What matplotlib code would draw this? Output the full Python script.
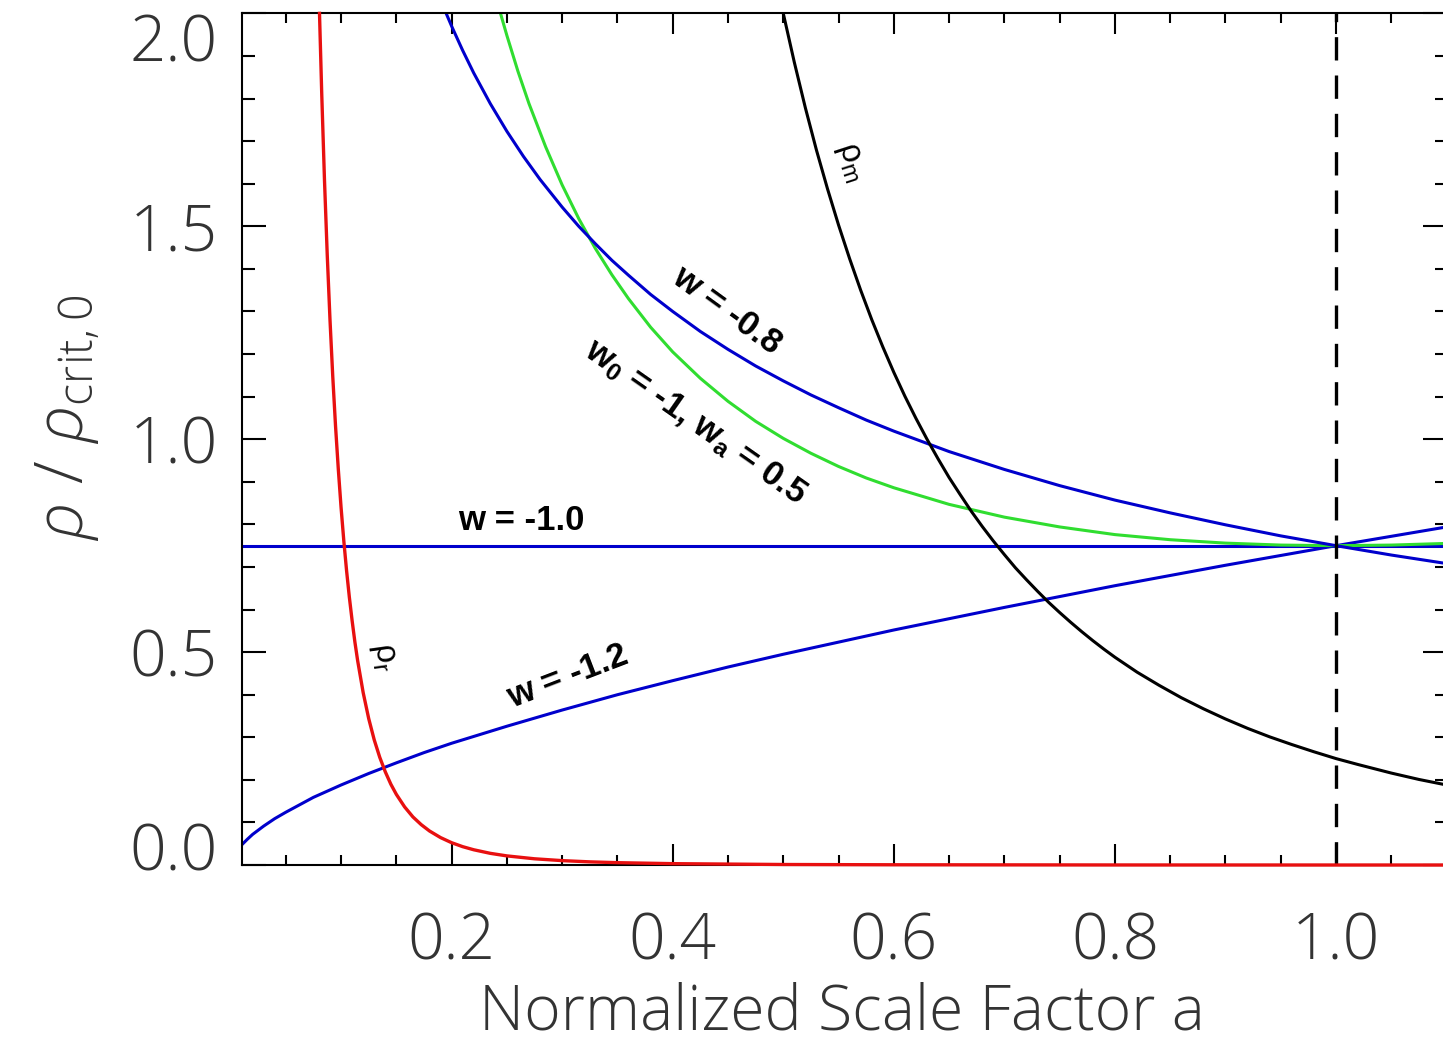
import matplotlib
matplotlib.use("Agg")
import matplotlib.pyplot as plt
from matplotlib.ticker import MultipleLocator
from matplotlib.transforms import ScaledTranslation

plt.rcParams["mathtext.fontset"] = "custom"
plt.rcParams["mathtext.rm"] = "Liberation Sans"
plt.rcParams["mathtext.it"] = "Open Sans:italic:light"
plt.rcParams["mathtext.bf"] = "Liberation Sans:bold"
plt.rcParams["mathtext.sf"] = "Open Sans:light"

# matter density rho_m
a_matter = [0.49, 0.50, 0.51, 0.52, 0.53, 0.54, 0.55, 0.56, 0.57, 0.58, 0.59,
            0.60, 0.61, 0.62, 0.63, 0.64, 0.65, 0.66, 0.67, 0.68, 0.69, 0.70,
            0.71, 0.72, 0.73, 0.74, 0.75, 0.76, 0.77, 0.78, 0.79, 0.80, 0.82,
            0.84, 0.86, 0.88, 0.90, 0.92, 0.94, 0.96, 0.98, 1.00, 1.02, 1.05,
            1.075, 1.10]
rho_matter = [2.125, 2.000, 1.885, 1.778, 1.679, 1.588, 1.503, 1.424, 1.350,
              1.281, 1.217, 1.157, 1.101, 1.049, 1.000, 0.954, 0.910, 0.870,
              0.831, 0.795, 0.761, 0.729, 0.698, 0.670, 0.643, 0.617, 0.593,
              0.570, 0.548, 0.527, 0.507, 0.488, 0.453, 0.422, 0.393, 0.367,
              0.343, 0.321, 0.301, 0.283, 0.266, 0.250, 0.236, 0.216, 0.201,
              0.188]

# radiation density rho_r
a_rad = [0.0805, 0.0825, 0.085, 0.0875, 0.090, 0.0925, 0.095, 0.0975, 0.100,
         0.1025, 0.105, 0.1075, 0.110, 0.1125, 0.115, 0.120, 0.125, 0.130,
         0.135, 0.140, 0.145, 0.150, 0.1575, 0.165, 0.1725, 0.180, 0.190,
         0.200, 0.210, 0.220, 0.235, 0.250, 0.275, 0.300, 0.325, 0.350,
         0.400, 0.500, 0.600, 0.800, 1.000, 1.100]
rho_rad = [2.000, 1.813, 1.609, 1.433, 1.280, 1.147, 1.031, 0.930, 0.840,
           0.761, 0.691, 0.629, 0.574, 0.524, 0.480, 0.405, 0.344, 0.294,
           0.253, 0.219, 0.190, 0.166, 0.1365, 0.113, 0.0949, 0.080, 0.0645,
           0.0525, 0.0432, 0.0359, 0.0275, 0.0215, 0.0147, 0.0104, 0.0075,
           0.0056, 0.0033, 0.0013, 0.00065, 0.0002, 0.00008, 0.00006]

# dark energy, w = -0.8
a_w08 = [0.19, 0.20, 0.21, 0.22, 0.235, 0.25, 0.265, 0.28, 0.30, 0.315, 0.33,
         0.345, 0.36, 0.38, 0.40, 0.425, 0.45, 0.475, 0.50, 0.525, 0.55,
         0.575, 0.60, 0.65, 0.70, 0.75, 0.80, 0.85, 0.90, 0.95, 1.00, 1.05,
         1.10]
rho_w08 = [2.031, 1.970, 1.913, 1.860, 1.788, 1.723, 1.664, 1.610, 1.545,
           1.500, 1.459, 1.420, 1.385, 1.340, 1.300, 1.253, 1.211, 1.172,
           1.137, 1.104, 1.074, 1.045, 1.019, 0.971, 0.929, 0.891, 0.857,
           0.827, 0.799, 0.773, 0.750, 0.728, 0.708]

# dark energy, w = -1.0
a_w10 = [0.01, 1.10]
rho_w10 = [0.75, 0.75]

# dark energy, w = -1.2
a_w12 = [0.01, 0.015, 0.02, 0.03, 0.04, 0.05, 0.075, 0.10, 0.125, 0.15,
         0.175, 0.20, 0.25, 0.30, 0.35, 0.40, 0.45, 0.50, 0.60, 0.70, 0.80,
         0.90, 1.00, 1.10]
rho_w12 = [0.047, 0.060, 0.072, 0.0915, 0.109, 0.124, 0.159, 0.188, 0.215,
           0.240, 0.264, 0.286, 0.326, 0.364, 0.400, 0.433, 0.465, 0.495,
           0.552, 0.605, 0.656, 0.704, 0.750, 0.794]

# dark energy, w0 = -1, wa = 0.5
a_cpl = [0.24, 0.245, 0.25, 0.26, 0.27, 0.285, 0.30, 0.315, 0.33, 0.345,
         0.36, 0.38, 0.40, 0.425, 0.45, 0.475, 0.50, 0.525, 0.55, 0.575,
         0.60, 0.65, 0.70, 0.75, 0.80, 0.85, 0.90, 0.95, 1.00, 1.05, 1.10]
rho_cpl = [2.040, 1.993, 1.948, 1.864, 1.788, 1.687, 1.597, 1.518, 1.448,
           1.386, 1.330, 1.263, 1.205, 1.143, 1.089, 1.042, 1.002, 0.967,
           0.936, 0.909, 0.886, 0.847, 0.817, 0.794, 0.776, 0.764, 0.756,
           0.7514, 0.750, 0.7514, 0.7553]

x_ticks = [0.2, 0.4, 0.6, 0.8, 1.0]
x_tick_labels = ["0.2", "0.4", "0.6", "0.8", "1.0"]
y_ticks = [0.0, 0.5, 1.0, 1.5, 2.0]
y_tick_labels = ["0.0", "0.5", "1.0", "1.5", "2.0"]

THIN = ["Open Sans", "Lato", "DejaVu Sans"]
GREY = "#333333"
RED = "#e81010"
BLUE = "#0000cc"
GREEN = "#30dd30"

fig = plt.figure(figsize=(14.43, 10.45), dpi=100)
ax = fig.add_axes([0.1674, 0.1722, 0.8351, 0.8150])

ax.plot(a_w12, rho_w12, color=BLUE, lw=2.2)
ax.plot(a_w10, rho_w10, color=BLUE, lw=2.2)
ax.plot(a_cpl, rho_cpl, color=GREEN, lw=2.2)
ax.plot(a_w08, rho_w08, color=BLUE, lw=2.2)
ax.plot(a_matter, rho_matter, color="black", lw=2.2)
ax.plot(a_rad, rho_rad, color=RED, lw=2.4, clip_on=False, zorder=3)
ax.axvline(1.0, color="black", lw=2.4, dashes=(7, 4.5))

ax.set_xlim(0.01, 1.1)
ax.set_ylim(0.0, 2.0)

ax.set_xticks(x_ticks)
ax.set_xticklabels(x_tick_labels)
ax.set_yticks(y_ticks)
ax.set_yticklabels(y_tick_labels)
ax.xaxis.set_minor_locator(MultipleLocator(0.05))
ax.yaxis.set_minor_locator(MultipleLocator(0.1))

for s in ax.spines.values():
    s.set_linewidth(1.5)
ax.tick_params(which="both", direction="in", top=True, right=True, width=1.5,
               colors="black", labelcolor=GREY)
ax.tick_params(axis="x", which="major", length=15, pad=33)
ax.tick_params(axis="x", which="minor", length=7.5)
ax.tick_params(axis="y", which="major", length=17, pad=17)
ax.tick_params(axis="y", which="minor", length=9)

for lab in ax.get_xticklabels() + ax.get_yticklabels():
    lab.set_family(THIN)
    lab.set_weight("light")
    lab.set_fontsize(46)

# the end labels sit inside the frame in the original
yt = ax.yaxis.get_major_ticks()
yt[0].label1.set_transform(yt[0].label1.get_transform()
                           + ScaledTranslation(0, 0.19, fig.dpi_scale_trans))
yt[-1].label1.set_transform(yt[-1].label1.get_transform()
                            + ScaledTranslation(0, -0.24, fig.dpi_scale_trans))

fig.text(0.5835, 0.0, "Normalized Scale Factor a", family=THIN,
         weight="light", fontsize=45, color=GREY, ha="center", va="bottom")
fig.text(0.047, 0.600, r"$\rho\ \mathsf{/}\ \rho_{\mathsf{crit,0}}$",
         fontsize=48, color=GREY, rotation=90, ha="center", va="center")

bold = dict(family="Liberation Sans", weight="bold", fontsize=25,
            color="black", ha="center", va="center", rotation_mode="anchor")
ax.text(0.263, 0.808, "w = -1.0", **bold)
ax.text(0.305, 0.444, "w = -1.2", rotation=21, **bold)
ax.text(0.449, 1.303, "w = -0.8", rotation=-36, **bold)
ax.text(0.420, 1.040, r"w$_\mathbf{0}$ = -1, w$_\mathbf{a}$ = 0.5",
        rotation=-35, **bold)

plain = dict(family="Liberation Sans", fontsize=24, color="black",
             ha="center", va="center", rotation_mode="anchor")
ax.text(0.561, 1.651, r"ρ$_\mathrm{m}$", rotation=-72, **plain)
ax.text(0.138, 0.488, r"ρ$_\mathrm{r}$", rotation=-82, **plain)

fig.savefig("out.png", dpi=100)
